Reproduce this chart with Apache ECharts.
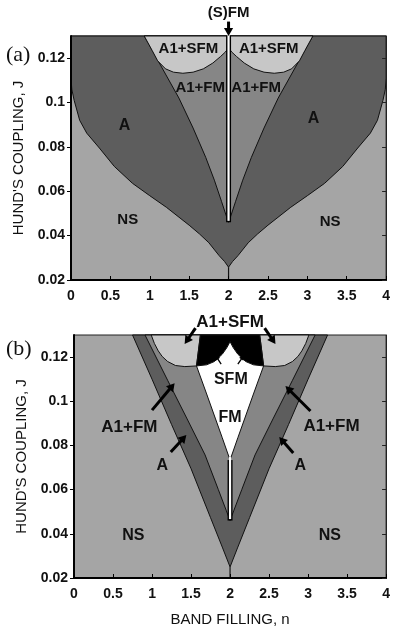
<!DOCTYPE html>
<html>
<head>
<meta charset="utf-8">
<title>Phase diagram</title>
<script src="https://cdn.jsdelivr.net/npm/echarts@6/dist/echarts.min.js"></script>
<style>
  html, body { margin: 0; padding: 0; background: #fff; }
  #chart { width: 393px; height: 633px; }
</style>
</head>
<body>
<div id="chart"></div>
<script>
// tick labels
const xTicks = [0, 0.5, 1, 1.5, 2, 2.5, 3, 3.5, 4];
const yTicks = [0.02, 0.04, 0.06, 0.08, 0.1, 0.12];

// ---------- panel (a) boundaries, [n, J] ----------
// NS / A
const aNsAL = [[0, 0.111], [0.01, 0.106], [0.04, 0.101], [0.11, 0.092], [0.2, 0.0862], [0.36, 0.0795], [0.55, 0.0712], [0.78, 0.0636], [1.0, 0.058], [1.21, 0.0528], [1.5, 0.0447], [1.63, 0.0408], [1.75, 0.0368], [1.88, 0.031], [1.95, 0.0283], [2, 0.0258]];
const aNsAR = [[2, 0.0258], [2.05, 0.0283], [2.12, 0.031], [2.25, 0.0368], [2.37, 0.0408], [2.5, 0.0447], [2.79, 0.0528], [3.0, 0.058], [3.22, 0.0636], [3.45, 0.0712], [3.64, 0.0795], [3.8, 0.0862], [3.89, 0.092], [3.96, 0.101], [3.99, 0.106], [4, 0.111]];
const aCusp = [[2, 0.02], [2, 0.0258]];
// A / A1+FM
const aAFmL = [[0.93, 0.13], [1.15, 0.116], [1.37, 0.102], [1.55, 0.0885], [1.71, 0.0753], [1.82, 0.065], [1.91, 0.0555], [1.97, 0.049], [2, 0.046]];
const aAFmR = [[2, 0.046], [2.03, 0.049], [2.09, 0.0555], [2.18, 0.065], [2.29, 0.0753], [2.45, 0.0885], [2.63, 0.102], [2.85, 0.116], [3.07, 0.13]];
// A1+FM / A1+SFM
const aSfmL = [[1.03, 0.1235], [1.1, 0.1188], [1.2, 0.1152], [1.3, 0.1137], [1.42, 0.1132], [1.55, 0.1137], [1.68, 0.1152], [1.8, 0.1178], [1.9, 0.1208], [1.96, 0.1228], [2, 0.1247]];
const aSfmR = [[2, 0.1247], [2.04, 0.1228], [2.1, 0.1208], [2.2, 0.1178], [2.32, 0.1152], [2.45, 0.1137], [2.58, 0.1132], [2.7, 0.1137], [2.8, 0.1152], [2.9, 0.1188], [2.97, 0.1235]];
// (S)FM line
const aStrip = [[2, 0.046], [2, 0.13]];

// ---------- panel (b) boundaries ----------
const bNsAL = [[0.75, 0.13], [1.0, 0.110], [1.25, 0.0895], [1.5, 0.0695], [1.75, 0.0473], [1.9, 0.034], [2, 0.025]];
const bNsAR = [[2, 0.025], [2.1, 0.034], [2.25, 0.0473], [2.5, 0.0695], [2.75, 0.0895], [3.0, 0.110], [3.25, 0.13]];
const bCusp = [[2, 0.02], [2, 0.025]];
const bAFmL = [[0.91, 0.13], [1.2, 0.1095], [1.45, 0.092], [1.68, 0.0757], [1.85, 0.06], [1.95, 0.0507], [2, 0.046]];
const bAFmR = [[2, 0.046], [2.05, 0.0507], [2.15, 0.06], [2.32, 0.0757], [2.55, 0.092], [2.8, 0.1095], [3.09, 0.13]];
const bSfmL = [[0.99, 0.13], [1.03, 0.1262], [1.08, 0.1228], [1.13, 0.1203], [1.2, 0.118], [1.3, 0.1162], [1.42, 0.1157], [1.57, 0.116], [1.62, 0.13]];
const bSfmR = [[2.38, 0.13], [2.43, 0.116], [2.58, 0.1157], [2.7, 0.1162], [2.8, 0.118], [2.87, 0.1203], [2.92, 0.1228], [2.97, 0.1262], [3.01, 0.13]];
// FM top (below the black SFM lobes)
const bFmTopL = [[1.57, 0.116], [1.7, 0.1165], [1.8, 0.118], [1.9, 0.1213], [1.96, 0.1243], [2, 0.127]];
const bFmTopR = [[2, 0.127], [2.04, 0.1243], [2.1, 0.1213], [2.2, 0.118], [2.3, 0.1165], [2.43, 0.116]];
// FM sides
const bFmSideR = [[2.43, 0.116], [2.3, 0.1033], [2.19, 0.0924], [2.1, 0.0835], [2, 0.0734]];
const bFmSideL = [[2, 0.0734], [1.9, 0.0835], [1.81, 0.0924], [1.7, 0.1033], [1.57, 0.116]];
const bStrip = [[2, 0.046], [2, 0.0734]];

// annotations [text, n, J] and arrows [n1, J1, n2, J2]
const aNotes = [['A1+SFM', 1.49, 0.1243], ['A1+SFM', 2.51, 0.1243], ['A1+FM', 1.64, 0.1067], ['A1+FM', 2.35, 0.1067],
  ['A', 0.68, 0.0897], ['A', 3.08, 0.0928], ['NS', 0.72, 0.047], ['NS', 3.29, 0.046], ['(S)FM', 2.0, 0.1405]];
const aArrows = [[2, 0.1365, 2, 0.1300]];
const bNotes = [['A1+SFM', 2.0, 0.1358], ['SFM', 2.01, 0.1096], ['FM', 2.0, 0.0924], ['A1+FM', 0.71, 0.0883], ['A', 1.13, 0.0711],
  ['A1+FM', 3.30, 0.0888], ['A', 2.90, 0.0711], ['NS', 0.76, 0.039], ['NS', 3.28, 0.039]];
const bArrows = [[1.557, 0.1331, 1.418, 0.1259], [2.443, 0.1331, 2.582, 0.1259], [1.886, 0.1168, 1.81, 0.1209], [2.10, 0.1168, 2.18, 0.1209],
  [1.0, 0.096, 1.29, 0.1082], [1.24, 0.077, 1.44, 0.0847], [3.03, 0.0956, 2.71, 0.1069], [2.81, 0.0766, 2.63, 0.0838]];

const colNS = '#a5a5a5', colA = '#5d5d5d', colA1FM = '#868686', colA1SFM = '#c7c7c7';
const FONT = '"Liberation Sans", Arial, sans-serif';

const aLayers = [
  { fill: colA, pts: [[0, 0.13]].concat(aNsAL, aNsAR.slice(1), [[4, 0.13]]) },
  { line: true, pts: aCusp },
  { fill: colA1FM, pts: aAFmL.concat(aAFmR.slice(1)) },
  { fill: colA1SFM, pts: [[0.93, 0.13]].concat(aSfmL, aSfmR.slice(1), [[3.07, 0.13]]) },
  { strip: true, pts: aStrip }
];
const bLayers = [
  { fill: colA, pts: bNsAL.concat(bNsAR.slice(1)) },
  { line: true, pts: bCusp },
  { fill: colA1FM, pts: bAFmL.concat(bAFmR.slice(1)) },
  { fill: colA1SFM, pts: bSfmL },
  { fill: colA1SFM, pts: bSfmR },
  { fill: '#000', pts: [[1.62, 0.13]].concat(bFmTopL, bFmTopR.slice(1), [[2.38, 0.13]]) },
  { fill: '#fff', pts: bFmTopL.concat(bFmTopR.slice(1), bFmSideR.slice(1), bFmSideL.slice(1)) },
  { strip: true, pts: bStrip }
];

function regionSeries(idx, layers) {
  return {
    type: 'custom',
    xAxisIndex: idx,
    yAxisIndex: idx,
    silent: true,
    z: 2,
    data: layers.map(function (l, i) { return [2, 0.08, i]; }),
    renderItem: function (params, api) {
      var l = layers[params.dataIndex];
      var pts = l.pts.map(function (p) { return api.coord(p); });
      if (l.line) {
        return { type: 'polyline', shape: { points: pts }, style: { stroke: '#111', lineWidth: 1.2, fill: null } };
      }
      if (l.strip) {
        var w = [[pts[0][0], pts[0][1] - 1.5], [pts[1][0], pts[1][1] - 3]];
        return {
          type: 'group', children: [
            { type: 'polyline', shape: { points: pts }, style: { stroke: '#000', lineWidth: 5, fill: null } },
            { type: 'polyline', shape: { points: w }, style: { stroke: '#fff', lineWidth: 2.2, fill: null } }
          ]
        };
      }
      return { type: 'polygon', shape: { points: pts }, style: { fill: l.fill, stroke: '#111', lineWidth: 1 } };
    }
  };
}

function noteSeries(idx, notes, arrows, big) {
  return {
    type: 'custom',
    xAxisIndex: idx,
    yAxisIndex: idx,
    silent: true,
    clip: false,
    z: 20,
    data: [[2, 0.08]],
    renderItem: function (params, api) {
      var children = [];
      arrows.forEach(function (a) {
        var p1 = api.coord([a[0], a[1]]), p2 = api.coord([a[2], a[3]]);
        var dx = p2[0] - p1[0], dy = p2[1] - p1[1];
        var len = Math.sqrt(dx * dx + dy * dy);
        var ux = dx / len, uy = dy / len;
        var small = len < 12;
        var hl = small ? 5 : 8, hw = small ? 2.6 : 4.6, lw = small ? 1.3 : 3;
        var bx = p2[0] - ux * hl, by = p2[1] - uy * hl;
        children.push({ type: 'line', shape: { x1: p1[0], y1: p1[1], x2: bx + ux, y2: by + uy }, style: { stroke: '#000', lineWidth: lw } });
        children.push({ type: 'polygon', shape: { points: [p2, [bx - uy * hw, by + ux * hw], [bx + uy * hw, by - ux * hw]] }, style: { fill: '#000' } });
      });
      notes.forEach(function (t) {
        var p = api.coord([t[1], t[2]]);
        var fs = big ? (t[0].indexOf('A1') === 0 ? 17 : 16) : (t[0] === 'A' ? 16 : 15);
        children.push({
          type: 'text', x: p[0], y: p[1],
          style: {
            text: t[0], fill: '#111', fontSize: fs, fontWeight: 'bold', fontFamily: FONT,
            align: 'center', verticalAlign: 'middle', textAlign: 'center', textVerticalAlign: 'middle'
          }
        });
      });
      return { type: 'group', children: children };
    }
  };
}

function xAx(gridIndex, name) {
  return {
    type: 'value', gridIndex: gridIndex, min: 0, max: 4, interval: 0.5, z: 10,
    name: name, nameLocation: 'middle', nameGap: 34,
    nameTextStyle: { color: '#111', fontSize: 15, fontFamily: FONT },
    axisLine: { show: true, lineStyle: { color: '#000', width: 2 } },
    axisTick: { show: true, inside: true, length: 4, lineStyle: { color: '#000' }, customValues: xTicks },
    axisLabel: { color: '#111', fontSize: 14, fontWeight: 'bold', fontFamily: FONT, margin: 9, customValues: xTicks },
    splitLine: { show: false }
  };
}
function yAx(gridIndex, gap) {
  return {
    type: 'value', gridIndex: gridIndex, min: 0.02, max: 0.13, interval: 0.02, z: 10,
    name: "HUND'S COUPLING, J", nameLocation: 'middle', nameGap: gap,
    nameTextStyle: { color: '#111', fontSize: 15, fontFamily: FONT },
    axisLine: { show: true, lineStyle: { color: '#000', width: 2 } },
    axisTick: { show: true, inside: false, length: 4, lineStyle: { color: '#000' }, customValues: yTicks },
    axisLabel: { color: '#111', fontSize: 14, fontWeight: 'bold', fontFamily: FONT, margin: 6, customValues: yTicks },
    splitLine: { show: false }
  };
}
function yRight(gridIndex) {
  return {
    type: 'value', gridIndex: gridIndex, position: 'right', min: 0.02, max: 0.13, interval: 0.02, z: 10,
    axisLine: { show: true, lineStyle: { color: '#222', width: 1 } },
    axisTick: { show: true, inside: true, length: 4, lineStyle: { color: '#222' }, customValues: yTicks },
    axisLabel: { show: false },
    splitLine: { show: false }
  };
}

var chart = echarts.init(document.getElementById('chart'));
var option = {
  animation: false,
  backgroundColor: '#fff',
  grid: [
    { left: 71, top: 36, width: 317, height: 244, show: true, backgroundColor: colNS, borderColor: '#222', borderWidth: 1 },
    { left: 74, top: 335, width: 316, height: 243, show: true, backgroundColor: colNS, borderColor: '#222', borderWidth: 1 }
  ],
  xAxis: [xAx(0, ''), xAx(1, 'BAND FILLING, n')],
  yAxis: [yAx(0, 36), yAx(1, 39), yRight(0), yRight(1)],
  graphic: [
    { type: 'text', left: 6, top: 44, style: { text: '(a)', fill: '#111', font: '22px "Liberation Serif", serif' } },
    { type: 'text', left: 6, top: 338, style: { text: '(b)', fill: '#111', font: '22px "Liberation Serif", serif' } }
  ],
  series: [
    regionSeries(0, aLayers),
    regionSeries(1, bLayers),
    noteSeries(0, aNotes, aArrows, false),
    noteSeries(1, bNotes, bArrows, true)
  ]
};
chart.setOption(option);
</script>
</body>
</html>
